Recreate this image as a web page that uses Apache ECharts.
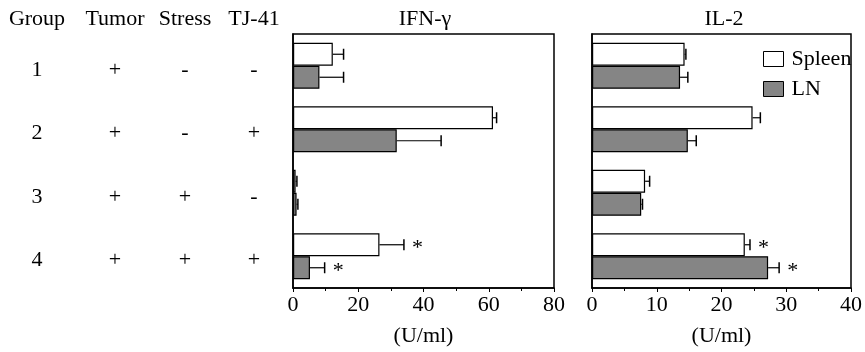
<!DOCTYPE html>
<html>
<head>
<meta charset="utf-8">
<script src="https://cdn.jsdelivr.net/npm/echarts@6/dist/echarts.min.js"></script>
<style>
  html, body { margin: 0; padding: 0; background: #fff; }
  #main { width: 865px; height: 352px; }
</style>
</head>
<body>
<div id="main"></div>
<script>
const groups = ['1', '2', '3', '4']
const tableHeader = ['Group', 'Tumor', 'Stress', 'TJ-41']
const tumor = ['+', '+', '+', '+']
const stress = ['-', '-', '+', '+']
const tj41 = ['-', '+', '-', '+']

// IFN-gamma (U/ml): mean and end of error bar
const ifnSpleen = [12.2, 61.3, 0.8, 26.5]
const ifnSpleenErr = [15.5, 62.4, 1.2, 34.0]
const ifnLN = [8.1, 31.8, 1.1, 5.2]
const ifnLNErr = [15.5, 45.4, 1.5, 9.7]
const ifnSpleenStar = [0, 0, 0, 1]
const ifnLNStar = [0, 0, 0, 1]

// IL-2 (U/ml)
const il2Spleen = [14.3, 24.8, 8.2, 23.6]
const il2SpleenErr = [14.5, 26.0, 8.9, 24.4]
const il2LN = [13.6, 14.8, 7.6, 27.2]
const il2LNErr = [14.8, 16.1, 7.8, 28.9]
const il2SpleenStar = [0, 0, 0, 1]
const il2LNStar = [0, 0, 0, 1]

const FONT = 'Liberation Serif'
const FS = 22
const BAR_W = 23
const colors = ['#ffffff', '#858585']

const chart = echarts.init(document.getElementById('main'))

function errSeries(name, grid, mean, err, star, side) {
    return {
        type: 'custom',
        name: name + ' err',
        xAxisIndex: grid,
        yAxisIndex: grid,
        silent: true,
        z: 5,
        data: mean.map((v, i) => [err[i], i, star[i]]),
        renderItem: function (params, api) {
            const end = api.coord([api.value(0), api.value(1)])
            const idx = api.value(1)
            const start = api.coord([mean[idx], idx])
            const cy = end[1] + side * BAR_W / 2
            const children = [
                {type: 'line', shape: {x1: start[0], y1: cy, x2: end[0], y2: cy}, style: {stroke: '#000', lineWidth: 1.2}},
                {type: 'line', shape: {x1: end[0], y1: cy - 5.5, x2: end[0], y2: cy + 5.5}, style: {stroke: '#000', lineWidth: 1.5}}
            ]
            if (api.value(2)) {
                children.push({
                    type: 'text',
                    style: {x: end[0] + 8, y: cy + 3, text: '*', font: FS + 'px ' + FONT, fill: '#000', textVerticalAlign: 'middle'}
                })
            }
            return {type: 'group', children: children}
        }
    }
}

function barSeries(name, grid, data, color) {
    return {
        type: 'bar',
        name: name,
        xAxisIndex: grid,
        yAxisIndex: grid,
        barWidth: BAR_W,
        barGap: '0%',
        itemStyle: {color: color, borderColor: '#000', borderWidth: 1.2},
        data: data
    }
}

function xAxisCfg(grid, max, interval) {
    return {
        type: 'value',
        gridIndex: grid,
        min: 0,
        max: max,
        interval: interval,
        name: '(U/ml)',
        nameLocation: 'middle',
        nameGap: 37,
        nameTextStyle: {fontFamily: FONT, fontSize: FS, color: '#000'},
        axisLine: {show: true, lineStyle: {color: '#000', width: 1.5}},
        axisTick: {show: true, length: 4, lineStyle: {color: '#000'}},
        minorTick: {show: true, splitNumber: 2, length: 3, lineStyle: {color: '#000'}},
        splitLine: {show: false},
        axisLabel: {fontFamily: FONT, fontSize: FS, color: '#000', margin: 6}
    }
}

function yAxisCfg(grid) {
    return {
        type: 'category',
        gridIndex: grid,
        inverse: true,
        data: groups,
        axisLine: {show: true, lineStyle: {color: '#000', width: 1.5}},
        axisTick: {show: false},
        axisLabel: {show: false}
    }
}

const option = {
    animation: false,
    backgroundColor: '#fff',
    textStyle: {fontFamily: FONT},
    grid: [
        {left: 293, right: 311, top: 34, height: 259, show: true, borderColor: '#000', borderWidth: 1.5, backgroundColor: 'transparent'},
        {left: 592, right: 12, top: 34, height: 259, show: true, borderColor: '#000', borderWidth: 1.5, backgroundColor: 'transparent'}
    ],
    legend: {
        orient: 'vertical',
        left: 758,
        top: 43,
        itemWidth: 20,
        itemHeight: 15,
        itemGap: 8,
        icon: 'rect',
        textStyle: {fontFamily: FONT, fontSize: FS, color: '#000', padding: [0, 0, 0, 3]},
        data: [
            {name: 'Spleen', itemStyle: {color: colors[0], borderColor: '#000', borderWidth: 1}},
            {name: 'LN', itemStyle: {color: colors[1], borderColor: '#000', borderWidth: 1}}
        ]
    },
    xAxis: [xAxisCfg(0, 80, 20), xAxisCfg(1, 40, 10)],
    yAxis: [yAxisCfg(0), yAxisCfg(1)],
    series: [
        barSeries('Spleen', 0, ifnSpleen, colors[0]),
        barSeries('LN', 0, ifnLN, colors[1]),
        barSeries('Spleen', 1, il2Spleen, colors[0]),
        barSeries('LN', 1, il2LN, colors[1]),
        errSeries('Spleen', 0, ifnSpleen, ifnSpleenErr, ifnSpleenStar, -1),
        errSeries('LN', 0, ifnLN, ifnLNErr, ifnLNStar, 1),
        errSeries('Spleen', 1, il2Spleen, il2SpleenErr, il2SpleenStar, -1),
        errSeries('LN', 1, il2LN, il2LNErr, il2LNStar, 1)
    ]
}
chart.setOption(option)

// titles and the treatment table, rows aligned to the category axis
const colX = [37, 115, 185, 254]
const textItem = (x, y, t) => ({
    type: 'text', x: x, y: y,
    style: {text: t, font: FS + 'px ' + FONT, fill: '#000', textAlign: 'center', textVerticalAlign: 'middle'}
})
const graphics = []
tableHeader.forEach((h, i) => graphics.push(textItem(colX[i], 19, h)))
graphics.push(textItem(425, 19, 'IFN-γ'))
graphics.push(textItem(724, 19, 'IL-2'))
groups.forEach((g, i) => {
    const y = chart.convertToPixel({yAxisIndex: 0}, i) + 4
    const row = [g, tumor[i], stress[i], tj41[i]]
    row.forEach((t, j) => graphics.push(textItem(colX[j], y, t)))
})
chart.setOption({graphic: graphics})
</script>
</body>
</html>
